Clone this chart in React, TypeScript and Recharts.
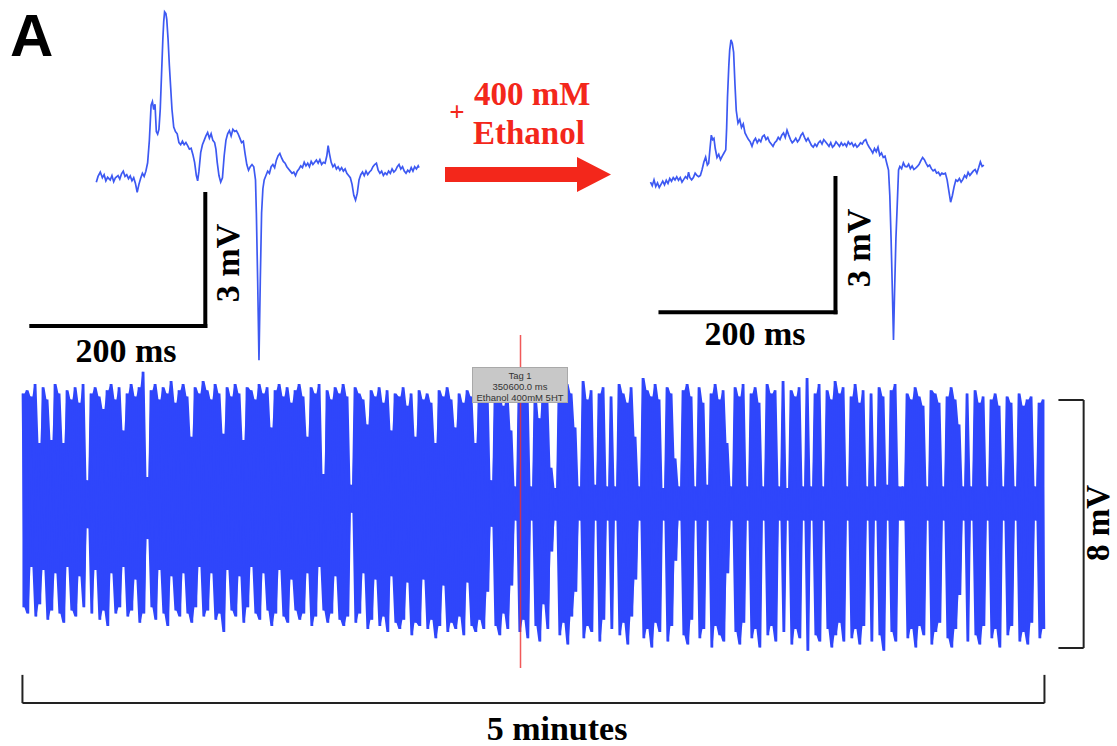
import React from 'react';
import { LineChart, ComposedChart, Line, Area, XAxis, YAxis, ReferenceLine } from 'recharts';

// ---------- Top-left: single event before ethanol (t in ms, v in mV) ----------
const beforeTrace: [number, number][] = [
  [0, -0.05], [2, 0.08], [4.6, 0.18], [7, 0.05], [9, 0.12], [11, -0.02], [13, 0.06], [16, 0.0], [18, 0.1], [20, -0.04],
  [22, 0.05], [25, 0.1], [27, 0.02], [29, 0.14], [31, 0.2], [33, 0.08], [35, 0.12], [37, 0.03], [39, 0.09], [41, -0.02],
  [43, 0.05], [45, -0.08], [47, -0.28], [49, -0.1], [51, 0.04], [53, 0.15], [55, 0.08], [57, 0.2], [59, 0.39], [61, 0.9],
  [63, 1.7], [64.5, 1.78], [66, 1.6], [67.5, 1.72], [69, 1.1], [70.5, 1.04], [72, 1.15], [73.5, 1.6], [75, 2.4], [76.5, 3.2],
  [77.5, 3.6], [78.5, 3.82], [80, 3.78], [81, 3.65], [82.5, 3.2], [84, 2.6], [85.5, 2.1], [87, 1.6], [89, 1.2], [91, 1.1],
  [93, 1.05], [95, 0.85], [97, 0.8], [99, 0.88], [101, 0.8], [103, 0.85], [105, 0.78], [107, 0.7], [109, 0.72], [111, 0.58],
  [113, 0.4], [115, 0.1], [116.5, -0.02], [118, 0.2], [120, 0.62], [122, 0.8], [124, 0.9], [126, 1.0], [128, 1.08], [130, 0.95],
  [132, 1.05], [134, 0.9], [136, 0.85], [137.5, 0.7], [139, 0.4], [141, 0.1], [143, -0.05], [145, 0.05], [147, 0.55], [149, 0.9],
  [151, 1.05], [153, 1.12], [155, 1.0], [157, 1.15], [159, 1.1], [161, 1.12], [163, 1.05], [165, 0.95], [167, 0.85], [169, 0.88],
  [171, 0.6], [173, 0.35], [175, 0.22], [177, 0.3], [179, 0.35], [181, 0.3], [183, 0.0], [184, -0.75], [185.5, -2.3], [187, -4.1],
  [188.5, -2.3], [190, -0.75], [191.5, -0.2], [193, 0.0], [195, 0.1], [197, 0.2], [199, 0.15], [201, 0.3], [203, 0.35], [205, 0.28],
  [207, 0.45], [209, 0.55], [211, 0.6], [213, 0.5], [215, 0.42], [217, 0.38], [219, 0.3], [221, 0.25], [223, 0.2], [225, 0.15],
  [227, 0.18], [229, 0.1], [231, 0.2], [233, 0.25], [235, 0.32], [237, 0.28], [239, 0.4], [241, 0.32], [243, 0.38], [245, 0.3],
  [247, 0.42], [249, 0.35], [251, 0.4], [253, 0.45], [255, 0.38], [257, 0.46], [259, 0.35], [261, 0.4], [263, 0.38], [265, 0.55],
  [266.5, 0.78], [268, 0.6], [270, 0.4], [272, 0.3], [274, 0.35], [276, 0.25], [278, 0.3], [280, 0.22], [282, 0.28], [284, 0.2],
  [286, 0.25], [288, 0.15], [290, 0.1], [292, 0.05], [294, -0.1], [296, -0.35], [298, -0.46], [300, -0.3], [302, 0.0], [304, 0.12],
  [306, 0.18], [308, 0.1], [310, 0.2], [312, 0.12], [314, 0.18], [316, 0.22], [318, 0.3], [320, 0.35], [322, 0.38], [324, 0.22],
  [326, 0.15], [328, 0.2], [330, 0.1], [332, 0.16], [334, 0.12], [336, 0.2], [338, 0.15], [340, 0.25], [342, 0.18], [344, 0.22],
  [346, 0.3], [348, 0.35], [350, 0.25], [352, 0.3], [354, 0.2], [356, 0.15], [358, 0.22], [360, 0.18], [362, 0.28], [364, 0.2],
  [366, 0.3], [368, 0.25], [370, 0.32], [371, 0.28],
];

// ---------- Top-right: single event with 400 mM ethanol (t in ms, v in mV) ----------
const afterTrace: [number, number][] = [
  [0, 0.0], [2, -0.08], [4, 0.05], [6, -0.1], [8, -0.02], [10, -0.12], [12, -0.05], [14, 0.02], [16, -0.06], [18, 0.04],
  [20, -0.03], [22, 0.08], [24, 0.02], [26, 0.1], [28, 0.05], [30, 0.12], [32, 0.04], [34, 0.1], [36, 0.0], [38, 0.06],
  [40, 0.12], [42, 0.08], [43.5, 0.22], [45, 0.1], [47, 0.05], [49, 0.1], [51, 0.2], [53, 0.15], [55, 0.12], [57, 0.15],
  [59, 0.28], [61, 0.45], [63, 0.56], [65, 0.38], [66.5, 0.42], [68, 0.75], [69.5, 1.05], [71, 0.95], [72.5, 0.98], [74, 0.75],
  [76, 0.55], [78, 0.62], [80, 0.5], [82, 0.58], [84, 0.65], [86, 0.72], [87, 1.2], [88, 1.9], [89.5, 2.6], [90.5, 2.95],
  [92, 3.18], [93.5, 3.1], [95, 2.9], [96.5, 2.2], [98, 1.6], [100, 1.32], [102, 1.4], [104, 1.22], [106, 1.3], [108, 1.1],
  [110, 1.02], [112, 0.95], [114, 0.9], [116, 0.8], [118, 0.92], [120, 0.98], [122, 0.88], [124, 0.95], [126, 0.9], [128, 1.02],
  [130, 1.05], [132, 0.95], [134, 1.0], [136, 0.9], [138, 0.85], [140, 0.8], [142, 0.88], [144, 0.92], [146, 1.0], [148, 0.95],
  [150, 1.05], [152, 1.1], [154, 1.0], [156, 1.16], [158, 1.05], [160, 0.95], [162, 0.88], [164, 0.92], [166, 0.98], [168, 0.9],
  [170, 0.95], [172, 1.05], [174, 1.1], [176, 1.0], [178, 0.92], [180, 0.98], [182, 0.9], [184, 0.82], [186, 0.78], [188, 0.85],
  [190, 0.8], [192, 0.88], [194, 0.92], [196, 0.85], [198, 0.95], [200, 0.9], [202, 0.85], [204, 0.8], [206, 0.88], [208, 0.78],
  [210, 0.82], [212, 0.9], [214, 0.85], [216, 0.8], [218, 0.88], [220, 0.82], [222, 0.86], [224, 0.8], [226, 0.9], [228, 0.84],
  [230, 0.88], [232, 0.8], [234, 0.85], [236, 0.78], [238, 0.82], [240, 0.88], [242, 0.85], [244, 0.92], [246, 0.95], [248, 0.85],
  [250, 0.78], [252, 0.72], [254, 0.65], [256, 0.75], [258, 0.68], [260, 0.78], [262, 0.6], [264, 0.65], [266, 0.55], [268, 0.58],
  [270, 0.42], [272, 0.27], [273.5, -0.3], [275, -1.3], [276.5, -2.5], [277.7, -3.53], [279, -2.4], [280.5, -1.25], [282, -0.5], [283.5, 0.27],
  [285, 0.35], [287, 0.3], [289, 0.43], [291, 0.35], [293, 0.34], [295, 0.4], [297, 0.3], [299, 0.36], [301, 0.28], [303, 0.31],
  [305, 0.35], [307, 0.4], [309, 0.48], [311, 0.55], [313, 0.5], [315, 0.42], [317, 0.35], [319, 0.38], [321, 0.3], [323, 0.25],
  [325, 0.28], [327, 0.2], [329, 0.22], [331, 0.15], [333, 0.2], [335, 0.18], [337, 0.2], [339, 0.05], [341, -0.2], [343, -0.45],
  [345, -0.3], [347, -0.1], [349, 0.05], [351, 0.02], [353, 0.08], [355, 0.0], [357, 0.06], [359, 0.15], [361, 0.1], [363, 0.22],
  [365, 0.15], [367, 0.2], [369, 0.25], [371, 0.28], [373, 0.2], [375, 0.32], [377, 0.45], [379, 0.35], [381, 0.38],
];

// ---------- Bottom: 5-minute recording, alternating peak / trough per sample pair (mV) ----------
const baselinePeaks = [
  3.6, 3.7, 3.5, 3.9, 2.0, 3.8, 3.4, 2.1, 3.9, 3.6,
  2.0, 3.7, 3.4, 3.8, 3.3, 3.9, 0.8, 3.6, 3.8, 3.5,
  3.1, 3.7, 3.9, 3.4, 3.8, 2.4, 3.6, 3.9, 3.5, 3.8,
  4.3, 0.9, 3.7, 3.9, 3.4, 3.8, 3.6, 4.0, 3.3, 3.7,
  3.9, 3.5, 2.2, 3.8, 3.6, 4.0, 3.7, 3.4, 3.9, 3.6,
  2.3, 3.8, 3.5, 3.9, 3.6, 2.1, 3.8, 3.7, 3.4, 3.9,
  3.6, 3.8, 2.5, 3.7, 3.9, 3.5, 3.8, 3.3, 3.7, 3.9,
  3.5, 2.2, 3.8, 3.6, 3.9, 1.0, 3.7, 3.4, 3.8, 3.6,
  3.9, 3.5, 0.65, 3.8, 3.6, 3.4, 2.6, 3.7, 3.5, 3.8,
  3.3, 3.7, 2.4, 3.6, 3.5, 3.8, 3.2, 3.6, 2.2, 3.7,
  3.4, 3.6, 3.3, 2.0, 3.7, 3.5, 3.8, 3.4, 2.5, 3.6,
  3.3, 3.7, 3.5, 2.0, 3.6, 3.4, 3.8, 0.8,
];
const baselineTroughs = [
  -3.3, -3.5, -2.0, -3.6, -3.2, -2.1, -3.7, -3.4, -2.2, -3.5,
  -3.8, -2.0, -3.4, -3.6, -2.3, -3.3, -0.75, -3.5, -2.1, -3.7,
  -3.4, -3.9, -2.2, -3.5, -3.3, -2.0, -3.6, -3.4, -2.4, -3.8,
  -3.5, -1.1, -3.3, -3.7, -2.1, -3.5, -3.9, -2.3, -3.4, -3.6,
  -2.2, -3.5, -3.8, -3.3, -2.0, -3.6, -3.4, -2.2, -3.7, -3.5,
  -4.1, -2.1, -3.4, -3.6, -2.3, -3.8, -3.3, -2.0, -3.5, -3.7,
  -2.2, -3.4, -3.9, -3.5, -2.1, -3.6, -3.8, -2.4, -3.4, -3.7,
  -3.5, -2.2, -3.9, -3.6, -2.0, -3.4, -3.8, -3.5, -2.3, -3.7,
  -3.9, -3.6, -0.25, -3.8, -3.5, -2.2, -4.0, -3.7, -2.4, -3.9,
  -3.6, -4.1, -2.3, -3.8, -4.0, -3.7, -2.5, -4.2, -3.8, -3.9,
  -2.4, -4.0, -3.7, -4.3, -3.9, -2.6, -4.1, -3.8, -4.0, -3.6,
  -4.2, -2.5, -3.9, -4.1, -3.7, -4.0, -2.8, -0.7,
];
const ethanolPeaks = [
  3.5, 3.8, 3.2, 3.6, 2.4, 0.6, 3.7, 3.4, 3.8, 0.6,
  3.6, 2.8, 3.9, 3.3, 1.2, 0.55, 3.7, 3.5, 3.9, 3.6,
  2.5, 0.6, 4.0, 3.4, 3.7, 0.65, 3.6, 3.8, 0.6, 3.5,
  0.6, 3.9, 3.6, 3.3, 3.8, 2.2, 0.6, 4.1, 3.7, 3.5,
  3.9, 3.4, 0.55, 3.8, 3.6, 1.5, 0.6, 3.7, 3.9, 3.5,
  0.6, 3.8, 3.3, 0.65, 3.6, 3.9, 3.4, 3.7, 2.0, 0.6,
  3.8, 3.5, 3.9, 0.6, 3.6, 3.8, 3.3, 0.6, 3.9, 3.6,
  3.7, 0.6, 4.0, 0.55, 3.7, 3.5, 3.8, 0.6, 4.1, 0.6,
  3.6, 3.9, 0.6, 3.7, 3.4, 4.0, 3.6, 3.8, 0.6, 3.5,
  3.9, 3.3, 3.7, 0.6, 3.6, 0.6, 3.8, 3.5, 0.65, 3.7,
  3.9, 0.6, 0.6, 3.6, 3.4, 3.8, 3.5, 3.2, 0.6, 3.7,
  3.6, 3.3, 0.6, 3.5, 3.8, 3.4, 2.6, 0.6, 3.6, 0.6,
  3.7, 3.3, 3.5, 0.6, 3.4, 3.6, 3.2, 0.6, 3.5, 3.3,
  0.6, 3.6, 3.2, 3.4, 3.5, 0.6, 3.3, 3.4,
];
const ethanolTroughs = [
  -3.9, -4.2, -3.5, -4.0, -2.6, -0.5, -4.1, -3.7, -4.3, -0.5,
  -3.9, -4.4, -3.2, -4.0, -1.5, -0.5, -4.2, -3.8, -4.5, -3.6,
  -2.8, -0.5, -4.3, -3.9, -4.1, -0.5, -4.4, -3.7, -0.5, -4.0,
  -0.5, -4.2, -3.8, -4.5, -3.6, -2.4, -0.5, -4.3, -4.0, -4.6,
  -3.8, -4.1, -0.5, -4.4, -3.9, -1.8, -0.5, -4.2, -4.5, -3.7,
  -0.5, -4.3, -4.0, -0.5, -4.6, -3.9, -4.2, -4.4, -2.2, -0.5,
  -4.1, -4.5, -3.8, -0.5, -4.3, -4.0, -4.6, -0.5, -4.2, -3.9,
  -4.4, -0.5, -4.1, -0.5, -4.5, -4.0, -4.3, -0.5, -4.7, -0.5,
  -4.2, -4.4, -0.5, -4.0, -4.6, -4.2, -3.8, -4.4, -0.5, -4.3,
  -4.0, -4.5, -3.9, -0.5, -4.4, -0.5, -4.2, -4.7, -0.5, -4.1,
  -4.4, -0.5, -0.5, -4.3, -4.0, -4.6, -3.9, -4.2, -0.5, -4.5,
  -4.1, -3.8, -0.5, -4.3, -4.6, -4.0, -2.9, -0.5, -4.4, -0.5,
  -4.2, -4.5, -3.9, -0.5, -4.3, -4.0, -4.6, -0.5, -4.2, -3.9,
  -0.5, -4.4, -4.1, -4.5, -3.8, -0.5, -4.3, -4.0,
];

const RECORDING_S = 300;
const TAG_TIME_S = 146.2;
const SCALE_MS = 200;
const SCALE_MV = 3;
const BIG_SCALE_MV = 8;

const TRACE_BLUE = '#2f46fb';
const SMALL_BLUE = '#3d59f2';
const RED = '#f3271b';
const SERIF = "'Liberation Serif', 'Times New Roman', serif";

const toRows = (pairs: [number, number][]) => pairs.map(([t, v]) => ({ t, v }));
const beforeData = toRows(beforeTrace);
const afterData = toRows(afterTrace);

const allPeaks = [...baselinePeaks, ...ethanolPeaks];
const allTroughs = [...baselineTroughs, ...ethanolTroughs];
const nSamples = allPeaks.length * 2;
const dt = RECORDING_S / (nSamples - 1);
const recordingData: { t: number; v: number; band: [number, number] }[] = [];
allPeaks.forEach((p, k) => {
  const band: [number, number] = [allTroughs[k], p];
  recordingData.push({ t: 2 * k * dt, v: p, band });
  recordingData.push({ t: (2 * k + 1) * dt, v: allTroughs[k], band });
});

const M = { top: 0, right: 0, bottom: 0, left: 0 };

export default function App() {
  // scale-bar corners (ms, mV)
  const lx = 125.3, ly = -3.32;
  const rx = 211.4, ry = -2.91;
  return (
    <div style={{ position: 'absolute', left: 0, top: 0, width: 1117, height: 746, background: '#fff', overflow: 'hidden' }}>
      {/* top-left event */}
      <div style={{ position: 'absolute', left: 17.7, top: 0 }}>
        <LineChart width={420.2} height={370} data={beforeData} margin={M}>
          <XAxis type="number" dataKey="t" domain={[-90, 393]} hide allowDataOverflow />
          <YAxis type="number" domain={[-4.32, 4.09]} hide allowDataOverflow />
          <Line type="linear" dataKey="v" stroke={SMALL_BLUE} strokeWidth={1.7} dot={false} isAnimationActive={false} />
          <ReferenceLine segment={[{ x: lx - SCALE_MS, y: ly }, { x: lx, y: ly }]} stroke="#000" strokeWidth={4} strokeLinecap="square" />
          <ReferenceLine segment={[{ x: lx, y: ly }, { x: lx, y: ly + SCALE_MV }]} stroke="#000" strokeWidth={4} strokeLinecap="square" />
        </LineChart>
      </div>
      {/* top-right event */}
      <div style={{ position: 'absolute', left: 632.5, top: 0 }}>
        <LineChart width={385} height={370} data={afterData} margin={M}>
          <XAxis type="number" dataKey="t" domain={[-20, 420]} hide allowDataOverflow />
          <YAxis type="number" domain={[-4.2, 4.07]} hide allowDataOverflow />
          <Line type="linear" dataKey="v" stroke={SMALL_BLUE} strokeWidth={1.7} dot={false} isAnimationActive={false} />
          <ReferenceLine segment={[{ x: rx - SCALE_MS, y: ry }, { x: rx, y: ry }]} stroke="#000" strokeWidth={4} strokeLinecap="square" />
          <ReferenceLine segment={[{ x: rx, y: ry }, { x: rx, y: ry + SCALE_MV }]} stroke="#000" strokeWidth={4} strokeLinecap="square" />
        </LineChart>
      </div>
      {/* 5-minute recording */}
      <div style={{ position: 'absolute', left: 1.5, top: 330 }}>
        <ComposedChart width={1114} height={416} data={recordingData} margin={M}>
          <XAxis type="number" dataKey="t" domain={[-6, 321]} hide allowDataOverflow />
          <YAxis type="number" domain={[-7.774, 5.645]} hide allowDataOverflow />
          <Area type="linear" dataKey="band" stroke="none" fill={TRACE_BLUE} fillOpacity={1} isAnimationActive={false} />
          <Line type="linear" dataKey="v" stroke={TRACE_BLUE} strokeWidth={1.6} dot={false} isAnimationActive={false} strokeLinejoin="bevel" />
          <ReferenceLine segment={[{ x: TAG_TIME_S, y: 5.48 }, { x: TAG_TIME_S, y: -5.26 }]} stroke="#ee3030" strokeOpacity={0.8} strokeWidth={1.5} />
          <ReferenceLine segment={[{ x: 0, y: -6.39 }, { x: RECORDING_S, y: -6.39 }]} stroke="#222" strokeWidth={2} />
          <ReferenceLine segment={[{ x: 0, y: -6.39 }, { x: 0, y: -5.48 }]} stroke="#222" strokeWidth={2} />
          <ReferenceLine segment={[{ x: RECORDING_S, y: -6.39 }, { x: RECORDING_S, y: -5.48 }]} stroke="#222" strokeWidth={2} />
          <ReferenceLine segment={[{ x: 311.5, y: 3.387 }, { x: 311.5, y: 3.387 - BIG_SCALE_MV }]} stroke="#222" strokeWidth={2} />
          <ReferenceLine segment={[{ x: 304.1, y: 3.387 }, { x: 311.5, y: 3.387 }]} stroke="#222" strokeWidth={2} />
          <ReferenceLine segment={[{ x: 304.1, y: 3.387 - BIG_SCALE_MV }, { x: 311.5, y: 3.387 - BIG_SCALE_MV }]} stroke="#222" strokeWidth={2} />
        </ComposedChart>
      </div>
      {/* tag box */}
      <div style={{ position: 'absolute', left: 472, top: 367, width: 96, height: 36, background: '#c8c8c8', border: '1px solid #a9a9a9', boxSizing: 'border-box', fontFamily: "'Liberation Sans', Arial, sans-serif", fontSize: 9.5, lineHeight: '11px', color: '#333', textAlign: 'center', paddingTop: 2 }}>
        <div>Tag 1</div>
        <div>350600.0 ms</div>
        <div>Ethanol 400mM 5HT</div>
      </div>
      {/* texts and arrow */}
      <svg width={1117} height={746} style={{ position: 'absolute', left: 0, top: 0, pointerEvents: 'none' }}>
        <text x={10} y={56} fontFamily="'Liberation Sans', Arial, sans-serif" fontWeight="bold" fontSize={60}>A</text>
        <g fontFamily={SERIF} fontWeight="bold" fill="#000" fontSize={34}>
          <text x={126} y={362} textAnchor="middle">200 ms</text>
          <text x={755} y={345} textAnchor="middle">200 ms</text>
          <text transform="translate(239,263) rotate(-90)" textAnchor="middle">3 mV</text>
          <text transform="translate(870,248) rotate(-90)" textAnchor="middle">3 mV</text>
          <text transform="translate(1109,523) rotate(-90)" textAnchor="middle" fontSize={33}>8 mV</text>
          <text x={557} y={740} textAnchor="middle">5 minutes</text>
        </g>
        <g fill={RED} fontFamily={SERIF} fontWeight="bold">
          <text x={457} y={121} textAnchor="middle" fontSize={27}>+</text>
          <text x={474} y={105} fontSize={33}>400 mM</text>
          <text x={473} y={144} fontSize={33}>Ethanol</text>
          <polygon points="445,167 577,167 577,157 611,174.5 577,192 577,182 445,182" />
        </g>
      </svg>
    </div>
  );
}
